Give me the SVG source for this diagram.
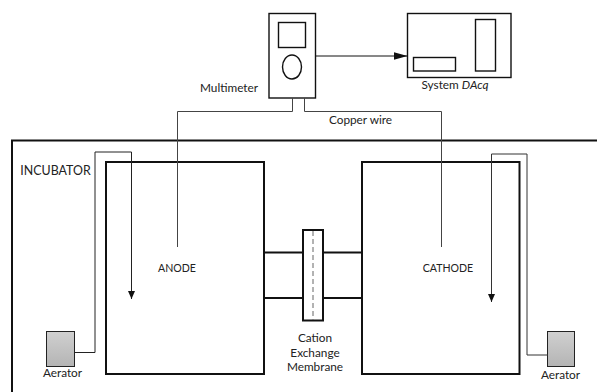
<svg xmlns="http://www.w3.org/2000/svg" width="597" height="392" viewBox="0 0 597 392">
<style>
text{font-family:Lato,"Open Sans",sans-serif;font-size:11.800px;fill:#222;text-anchor:middle}
text.c{font-size:10.600px}
text.i{font-size:12.400px}
.b{fill:none;stroke:#111;stroke-width:1.4}
.h{fill:none;stroke:#111;stroke-width:2}
.w{fill:none;stroke:#444;stroke-width:1}
.g{fill:url(#gr);stroke:#222;stroke-width:1}
</style>
<defs>
<linearGradient id="gr" x1="0" y1="0" x2="0" y2="1"><stop offset="0" stop-color="#d0d0d0"/><stop offset="1" stop-color="#b4b4b4"/></linearGradient>
<marker id="a" markerUnits="userSpaceOnUse" markerWidth="14" markerHeight="10" refX="14" refY="4" orient="auto"><path d="M0 0L14 4L0 8Z" fill="#111"/></marker>
<marker id="b" markerUnits="userSpaceOnUse" markerWidth="8" markerHeight="8" refX="8" refY="3.500" orient="auto"><path d="M0 0L8 3.500L0 7Z" fill="#111"/></marker>
</defs>
<g id="incubator"><path class="h" d="M12 392V140.500H597"/><text class="i" x="55.500" y="175">INCUBATOR</text></g>
<g id="anode"><rect class="h" x="106" y="162" width="158" height="212"/><text class="c" x="177" y="272">ANODE</text></g>
<g id="cathode"><rect class="h" x="362" y="162" width="157.500" height="212"/><text class="c" x="448" y="272">CATHODE</text></g>
<g id="bridge"><path class="h" d="M264 252.500H303M323 252.500H362M264 298H303M323 298H362"/></g>
<g id="membrane"><rect x="303" y="230" width="20" height="90.500" fill="#fff" stroke="#111" stroke-width="2"/><path d="M313 231V320" fill="none" stroke="#666" stroke-width="1" stroke-dasharray="5 3"/><text x="315" y="342">Cation</text><text x="315" y="356.500">Exchange</text><text x="315" y="371">Membrane</text></g>
<g id="multimeter"><rect class="b" x="269" y="13.500" width="46.500" height="84.500" fill="#fff"/><rect class="b" x="278.500" y="22.500" width="27" height="25" fill="#fff"/><ellipse class="b" cx="292" cy="67" rx="9.500" ry="12" fill="#fff"/><text x="229" y="91.500">Multimeter</text></g>
<g id="daq"><rect class="b" x="407.500" y="13.500" width="103.500" height="64" fill="#fff"/><rect class="b" x="413.500" y="57.500" width="42" height="13.500"/><rect class="b" x="475.500" y="19.500" width="20" height="51.500"/><text x="455" y="89">System <tspan font-style="italic">DAcq</tspan></text></g>
<g id="aerator-left"><rect class="g" x="46.500" y="331.500" width="28" height="35"/><text x="62.500" y="376.500">Aerator</text></g>
<g id="aerator-right"><rect class="g" x="547.500" y="331.500" width="27" height="35"/><text x="560.500" y="378.500">Aerator</text></g>
<g id="connectors">
<path d="M316 56H407.500" fill="none" stroke="#111" stroke-width="1" marker-end="url(#a)"/>
<path class="w" d="M292.500 98V111.500H177.500V247"/>
<path class="w" d="M304.500 98V111.500H441.500V247"/>
<path d="M74.500 352.500H95V152H131.500V299" fill="none" stroke="#222" stroke-width="1" marker-end="url(#b)"/>
<path d="M548 355H527V154H491.500V302" fill="none" stroke="#333" stroke-width="1" marker-end="url(#b)"/>
</g>
<text x="360.500" y="124">Copper wire</text>
</svg>
